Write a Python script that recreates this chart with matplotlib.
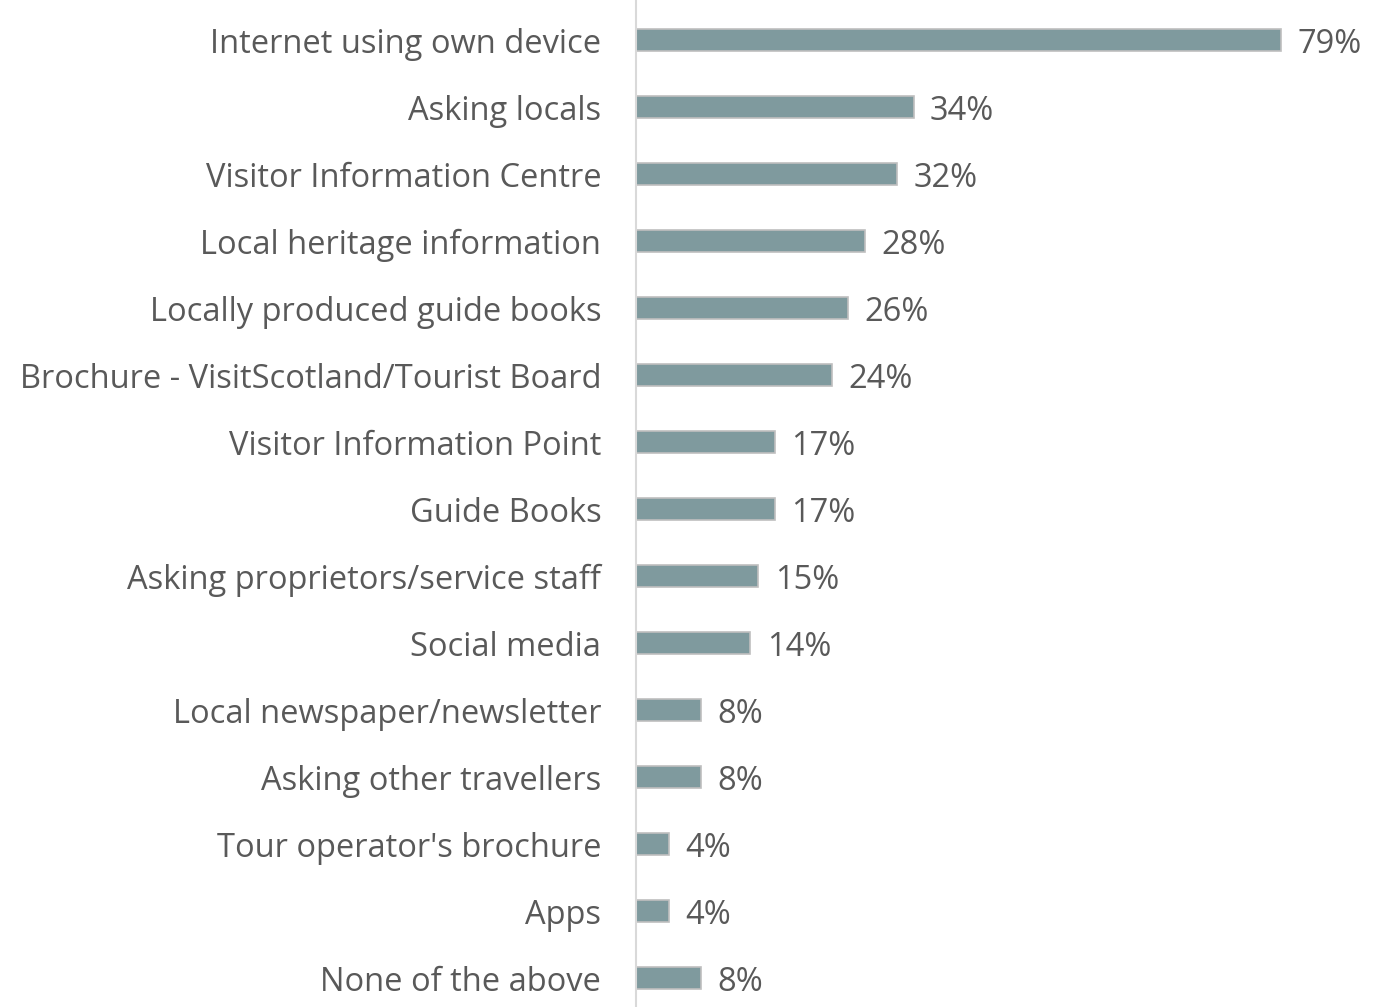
import matplotlib.pyplot as plt

categories = ['Internet using own device', 'Asking locals', 'Visitor Information Centre',
              'Local heritage information', 'Locally produced guide books',
              'Brochure - VisitScotland/Tourist Board', 'Visitor Information Point',
              'Guide Books', 'Asking proprietors/service staff', 'Social media',
              'Local newspaper/newsletter', 'Asking other travellers',
              "Tour operator's brochure", 'Apps', 'None of the above']
values = [79, 34, 32, 28, 26, 24, 17, 17, 15, 14, 8, 8, 4, 4, 8]

plt.rcParams['font.family'] = ['Open Sans', 'DejaVu Sans']

fig = plt.figure(figsize=(13.87, 10.07), dpi=100)
ax = fig.add_axes([636 / 1387, 0, 1 - 636 / 1387, 1])

pos = list(range(len(categories)))
ax.barh(pos, values, height=0.33, color='#7F9A9E', edgecolor='#BFBFBF', linewidth=1.2)

for i, v in enumerate(values):
    ax.text(v + 2.0, i, '%d%%' % v, va='center_baseline', ha='left', fontsize=23.5, color='#595959')

ax.set_xlim(0, 92)
ax.set_ylim(14.43, -0.597)
ax.set_yticks(pos)
ax.set_yticklabels(categories, fontsize=23.5, color='#595959')
ax.tick_params(axis='y', length=0, pad=25)
ax.set_xticks([])
for s in ['top', 'right', 'bottom']:
    ax.spines[s].set_visible(False)
ax.spines['left'].set_color('#D9D9D9')
ax.spines['left'].set_linewidth(1.5)

fig.savefig('out.png', dpi=100)
